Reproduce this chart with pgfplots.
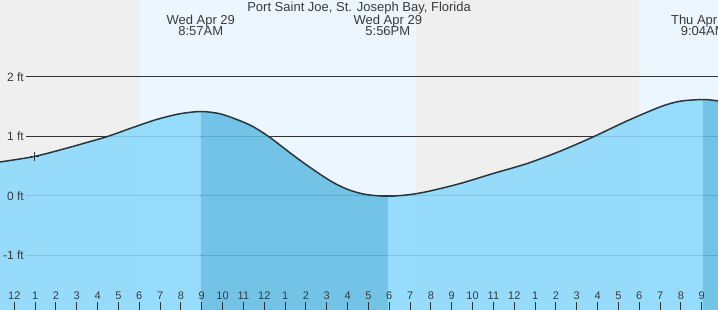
\documentclass[border=0pt]{standalone}
\usepackage{pgfplots}
\pgfplotsset{compat=1.18}
\usepackage{fontspec}
\setmainfont{Liberation Sans}
\definecolor{greybg}{RGB}{239,239,239}
\definecolor{daybg}{RGB}{236,246,255}
\definecolor{lightfill}{RGB}{139,217,252}
\definecolor{darkfill}{RGB}{99,189,227}
\definecolor{linecol}{RGB}{51,51,51}
\definecolor{txt}{RGB}{58,58,58}
\begin{document}
\begin{tikzpicture}
\begin{axis}[
  scale only axis, width=718bp, height=310bp,
  xmin=-0.686, xmax=33.78, ymin=-1.92, ymax=3.29,
  axis on top,
  axis line style={draw=none},
  xtick={0,1,...,34},
  xticklabels={12,1,2,3,4,5,6,7,8,9,10,11,12,1,2,3,4,5,6,7,8,9,10,11,12,1,2,3,4,5,6,7,8,9,10},
  extra x ticks={0,24},
  extra x tick labels={},
  extra x tick style={major tick length=8bp, tick style={line width=3bp, color=linecol}},
  xtick pos=bottom,
  tick align=inside,
  major tick length=8bp,
  x tick style={line width=1bp, color=linecol},
  x tick label style={anchor=base, yshift=10.7bp, inner sep=0pt, text=txt, font=\fontsize{11bp}{13bp}\selectfont},
  ytick={-1,0,1,2},
  yticklabels={-1 ft,0 ft,1 ft,2 ft},
  y tick style={draw=none},
  y tick label style={anchor=east, xshift=24bp, inner sep=0pt, text=txt, font=\fontsize{12bp}{14bp}\selectfont},
  clip=true,
]
% backgrounds
\fill[greybg] (axis cs:-1,-2) rectangle (axis cs:35,3.5);
\fill[daybg] (axis cs:6.03,-2) rectangle (axis cs:19.28,3.5);
\fill[daybg] (axis cs:29.99,-2) rectangle (axis cs:35,3.5);
% level lines
\draw[linecol, line width=1bp] (axis cs:0.56,2) -- (axis cs:35,2);
\draw[linecol, line width=1bp] (axis cs:0.56,1) -- (axis cs:35,1);
\draw[linecol, line width=1bp] (axis cs:0.56,0) -- (axis cs:35,0);
\draw[linecol, line width=1bp] (axis cs:0.56,-1) -- (axis cs:35,-1);
% fills: rising tide (light), falling tide (dark)
\addplot[fill=lightfill, fill opacity=0.88, draw=none, smooth] coordinates {
(-0.686,0.568) (0.96,0.660) (2.515,0.800) (3.475,0.895) (4.512,1.000) (5.712,1.150) (6.835,1.282) (7.954,1.378) (8.95,1.415)
} |- (axis cs:-0.686,-2) -- cycle;
\addplot[fill=darkfill, fill opacity=0.88, draw=none, smooth] coordinates {
(8.95,1.415) (9.874,1.378) (10.834,1.261) (11.472,1.160) (12.240,0.988) (13.075,0.765) (13.714,0.597) (14.515,0.400) (15.312,0.222) (16.114,0.092) (16.915,0.020) (17.93,-0.008)
} |- (axis cs:8.95,-2) -- cycle;
\addplot[fill=lightfill, fill opacity=0.88, draw=none, smooth] coordinates {
(17.93,-0.008) (18.994,0.020) (19.954,0.080) (21.394,0.205) (22.978,0.373) (24.61,0.541) (26.194,0.748) (27.778,0.988) (29.41,1.257) (30.99,1.492) (31.95,1.588) (33.07,1.617)
} |- (axis cs:17.93,-2) -- cycle;
\addplot[fill=darkfill, fill opacity=0.88, draw=none, smooth] coordinates {
(33.07,1.617) (33.78,1.593) (34.2,1.56)
} |- (axis cs:33.07,-2) -- cycle;
% tide curve
\addplot[linecol, line width=1.5bp, smooth] coordinates {
(-0.686,0.568) (0.96,0.660) (2.515,0.800) (3.475,0.895) (4.512,1.000) (5.712,1.150) (6.835,1.282) (7.954,1.378) (8.95,1.415)
(9.874,1.378) (10.834,1.261) (11.472,1.160) (12.240,0.988) (13.075,0.765) (13.714,0.597) (14.515,0.400) (15.312,0.222) (16.114,0.092) (16.915,0.020) (17.93,-0.008)
(18.994,0.020) (19.954,0.080) (21.394,0.205) (22.978,0.373) (24.61,0.541) (26.194,0.748) (27.778,0.988) (29.41,1.257) (30.99,1.492) (31.95,1.588) (33.07,1.617) (33.78,1.593) (34.2,1.56)
};
% current time marker
\addplot[linecol, only marks, mark=+, mark size=4.5bp, mark options={line width=1bp}] coordinates {(0.96,0.660)};
% annotations
\node[anchor=base, text=txt, font=\fontsize{13bp}{15bp}\selectfont, inner sep=0pt] at (axis cs:16.55,3.093) {Port Saint Joe, St. Joseph Bay, Florida};
\node[anchor=base, text=txt, font=\fontsize{13bp}{15bp}\selectfont, inner sep=0pt] at (axis cs:8.95,2.882) {Wed Apr 29};
\node[anchor=base, text=txt, font=\fontsize{13bp}{15bp}\selectfont, inner sep=0pt] at (axis cs:8.95,2.685) {8:57AM};
\node[anchor=base, text=txt, font=\fontsize{13bp}{15bp}\selectfont, inner sep=0pt] at (axis cs:17.93,2.882) {Wed Apr 29};
\node[anchor=base, text=txt, font=\fontsize{13bp}{15bp}\selectfont, inner sep=0pt] at (axis cs:17.93,2.685) {5:56PM};
\node[anchor=base, text=txt, font=\fontsize{13bp}{15bp}\selectfont, inner sep=0pt] at (axis cs:33.07,2.882) {Thu Apr 30};
\node[anchor=base, text=txt, font=\fontsize{13bp}{15bp}\selectfont, inner sep=0pt] at (axis cs:33.07,2.685) {9:04AM};
\end{axis}
\pgfresetboundingbox
\useasboundingbox (current axis.south west) rectangle (current axis.north east);
\end{tikzpicture}
\end{document}
